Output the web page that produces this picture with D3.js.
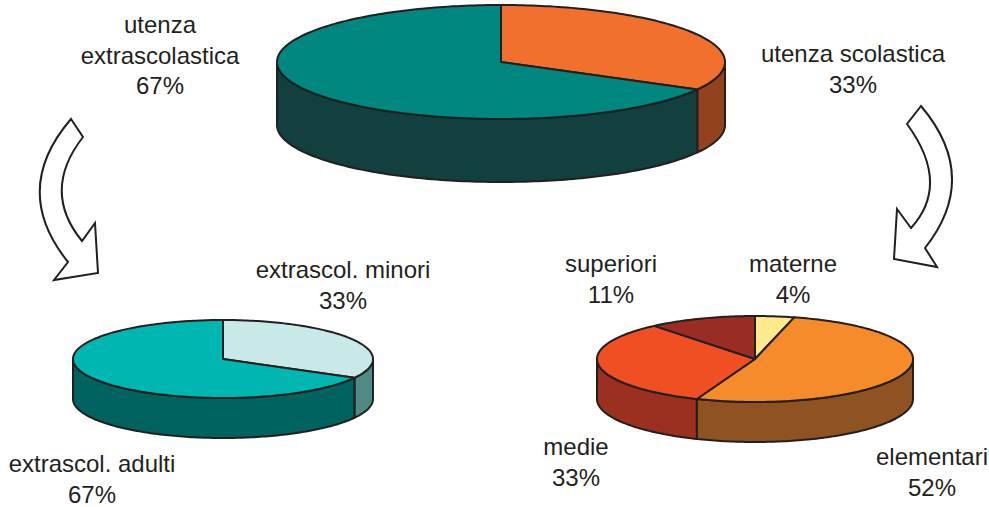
<!DOCTYPE html>
<html>
<head>
<meta charset="utf-8">
<script src="https://cdn.jsdelivr.net/npm/d3@7"></script>
<style>
  body { margin: 0; background: #fff; }
  text { font-family: "Liberation Sans", Arial, sans-serif; font-size: 24px; fill: #231f20; }
</style>
</head>
<body>
<div id="chart"></div>
<script>
// data
var top_labels = ["utenza scolastica", "utenza extrascolastica"],
    top_values = [33, 67];
var left_labels = ["extrascol. minori", "extrascol. adulti"],
    left_values = [33, 67];
var right_labels = ["materne", "elementari", "medie", "superiori"],
    right_values = [4, 52, 33, 11];

var svg_width = 989,
    svg_height = 507,
    stroke_col = "#231f20";

var svg = d3.select("#chart").append("svg")
    .attr("width", svg_width)
    .attr("height", svg_height);

// point on the ellipse, angle clockwise from 12 o'clock
var Pt = function (p, a, dy) {
    return [p.cx + p.rx * Math.sin(a), p.cy - p.ry * Math.cos(a) + (dy || 0)];
};

var ArcPoints = function (p, a0, a1, dy) {
    var pts = [], n = Math.max(2, Math.ceil(Math.abs(a1 - a0) / 0.02));
    for (var i = 0; i <= n; i++) {
        pts.push(Pt(p, a0 + (a1 - a0) * i / n, dy));
    }
    return pts;
};

var line = d3.line();

var Pie3D = function (p, values, tops, sides) {
    var arcs = d3.pie().sort(null).startAngle(0).endAngle(2 * Math.PI)(values);
    var g = svg.append("g");

    // visible walls: front half only
    arcs.forEach(function (d, i) {
        var a0 = Math.max(d.startAngle, Math.PI / 2),
            a1 = Math.min(d.endAngle, 3 * Math.PI / 2);
        if (a1 <= a0) return;
        var pts = ArcPoints(p, a0, a1, 0).concat(ArcPoints(p, a1, a0, p.depth));
        g.append("path")
            .attr("d", line(pts) + "Z")
            .attr("fill", sides[i])
            .attr("stroke", stroke_col)
            .attr("stroke-width", 2)
            .attr("stroke-linejoin", "round");
    });

    // top faces
    arcs.forEach(function (d, i) {
        var pts = [[p.cx, p.cy]].concat(ArcPoints(p, d.startAngle, d.endAngle, 0));
        g.append("path")
            .attr("d", line(pts) + "Z")
            .attr("fill", tops[i])
            .attr("stroke", stroke_col)
            .attr("stroke-width", 2)
            .attr("stroke-linejoin", "round");
    });
};

Pie3D({cx: 501, cy: 62, rx: 224, ry: 57, depth: 63}, top_values,
    ["#f2702e", "#00877f"], ["#934220", "#12403f"]);
Pie3D({cx: 223, cy: 359, rx: 150, ry: 39, depth: 40}, left_values,
    ["#c9e8e8", "#00b6b1"], ["#4f8a84", "#006360"]);
Pie3D({cx: 755, cy: 359, rx: 158, ry: 43, depth: 40}, right_values,
    ["#fee98c", "#f58b2a", "#ef4f23", "#9a2d22"], ["#c9a84a", "#8e5320", "#9b3021", "#6e1f18"]);

// labels: [text lines, x, first baseline]
var Label = function (lines, x, y) {
    var t = svg.append("text").attr("text-anchor", "middle");
    lines.forEach(function (s, i) {
        t.append("tspan").attr("x", x).attr("y", y + i * 30.5).text(s);
    });
};

Label(top_labels[1].split(" ").concat([top_values[1] + "%"]), 160, 33);
Label([top_labels[0], top_values[0] + "%"], 853, 62);
Label([left_labels[0], left_values[0] + "%"], 343, 278);
Label([left_labels[1], left_values[1] + "%"], 92, 472);
Label([right_labels[0], right_values[0] + "%"], 793, 272);
Label([right_labels[3], right_values[3] + "%"], 611, 272);
Label([right_labels[2], right_values[2] + "%"], 576, 455);
Label([right_labels[1], right_values[1] + "%"], 932, 465);

// curved arrows
var arrows = [
    "M71,119 L83,137 Q41,191 82,241 L95,223 L98,273 L54,280 L68,262 Q10,190 71,119 Z",
    "M921,106 L907,124 Q951,184 911,228 L897,209 L894,259 L937,267 L925,248 Q981,177 921,106 Z"
];
svg.selectAll("path.arrow").data(arrows).enter().append("path")
    .attr("class", "arrow")
    .attr("d", function (d) { return d; })
    .attr("fill", "#fff")
    .attr("stroke", stroke_col)
    .attr("stroke-width", 2)
    .attr("stroke-linejoin", "miter");
</script>
</body>
</html>
